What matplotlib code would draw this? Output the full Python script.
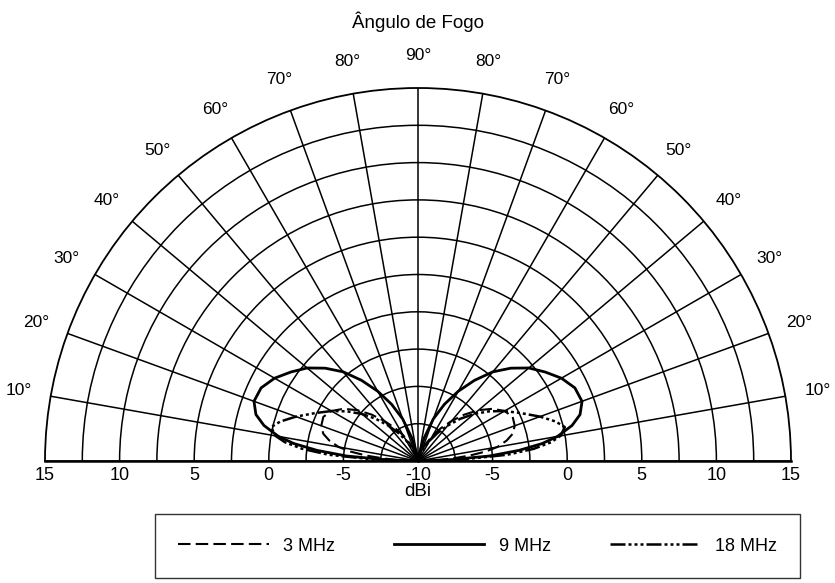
import numpy as np
import matplotlib
matplotlib.use('Agg')
import matplotlib.pyplot as plt

plt.rcParams['font.family'] = ['Liberation Sans', 'DejaVu Sans']

# elevation angle (deg) and gain (dBi), one side only -- mirrored below
elev = [0, 2, 4, 6, 8, 10, 13, 16, 20, 25, 30, 35, 40, 45, 50, 55, 60, 65, 70, 75, 80, 85, 90]
gain_3mhz = [-10, -9.0, -7.8, -6.5, -5.4, -4.6, -3.9, -3.4, -3.1, -3.0, -3.3, -3.9, -4.7,
             -5.6, -6.5, -7.3, -8.0, -8.7, -9.2, -9.6, -9.9, -10, -10]
gain_9mhz = [-10, -8.0, -5.2, -3.2, -1.6, -0.5, 0.6, 1.3, 1.7, 1.6, 1.1, 0.4, -0.3,
             -1.2, -2.2, -3.4, -4.6, -5.8, -7.0, -8.4, -9.5, -10, -10]
gain_18mhz = [-10, -7.0, -4.0, -2.2, -1.0, -0.3, 0.1, -0.4, -1.3, -2.4, -3.3, -4.2, -5.1,
              -6.0, -6.9, -7.7, -8.4, -9.0, -9.5, -9.8, -10, -10, -10]

series = [('3 MHz', gain_3mhz, (0, (6, 2.5)), 1.5),
          ('9 MHz', gain_9mhz, '-', 2.0),
          ('18 MHz', gain_18mhz, (0, (6, 1.2, 1.2, 1.2, 1.2, 1.2, 1.2, 1.2)), 1.8)]

r_labels = [-10, -5, 0, 5, 10, 15]
r_grid = [-7.5, -5, -2.5, 0, 2.5, 5, 7.5, 10, 12.5]
angles = list(range(0, 181, 10))

fig = plt.figure(figsize=(8.35, 5.83), dpi=100)
# square box; the half disc is fitted inside it and centred vertically
ax = fig.add_axes([45 / 835, -64.5 / 583, 746 / 835, 746 / 583], projection='polar')
ax.set_thetamin(0)
ax.set_thetamax(180)
ax.set_rlim(-10, 15)

th_side = np.array(elev)
for name, g, ls, lw in series:
    g = np.array(g)
    th = np.concatenate([th_side, 180 - th_side[::-1]])
    r = np.concatenate([g, g[::-1]])
    ax.plot(np.deg2rad(th), r, color='black', linestyle=ls, linewidth=lw, label=name)

ax.set_thetagrids(angles, [''] * len(angles))
ax.set_rgrids(r_grid, labels=[''] * len(r_grid))
ax.grid(True, color='black', linewidth=1.1)
for s in ax.spines.values():
    s.set_color('black')
ax.spines['polar'].set_linewidth(1.3)
ax.spines['start'].set_linewidth(1.8)
ax.spines['end'].set_linewidth(1.8)

# angle labels outside the arc, 10..90..10
for a in angles[1:-1]:
    ax.text(np.deg2rad(a), 17.2, '%d°' % min(a, 180 - a), ha='center', va='center',
            fontsize=12.5, clip_on=False)

# dBi labels along the baseline, both sides
for rv in r_labels:
    for th in ([0, np.pi] if rv != -10 else [0]):
        ax.annotate(str(rv), xy=(th, rv), xytext=(0, -4), textcoords='offset points',
                    ha='center', va='top', fontsize=13, annotation_clip=False)
ax.annotate('dBi', xy=(0, -10), xytext=(0, -16), textcoords='offset points',
            ha='center', va='top', fontsize=13.5, annotation_clip=False)

fig.text(0.5, 1 - 22 / 583, 'Ângulo de Fogo', ha='center', va='center', fontsize=13.5)

leg = fig.legend(loc='lower left', ncol=3, mode='expand',
                 bbox_to_anchor=(155 / 835, 5 / 583, 645 / 835, 56 / 583),
                 frameon=True, fancybox=False, edgecolor='black', handlelength=5,
                 fontsize=13, borderaxespad=0, borderpad=1.3)
leg.get_frame().set_linewidth(1.0)

fig.savefig('out.png', dpi=100)
